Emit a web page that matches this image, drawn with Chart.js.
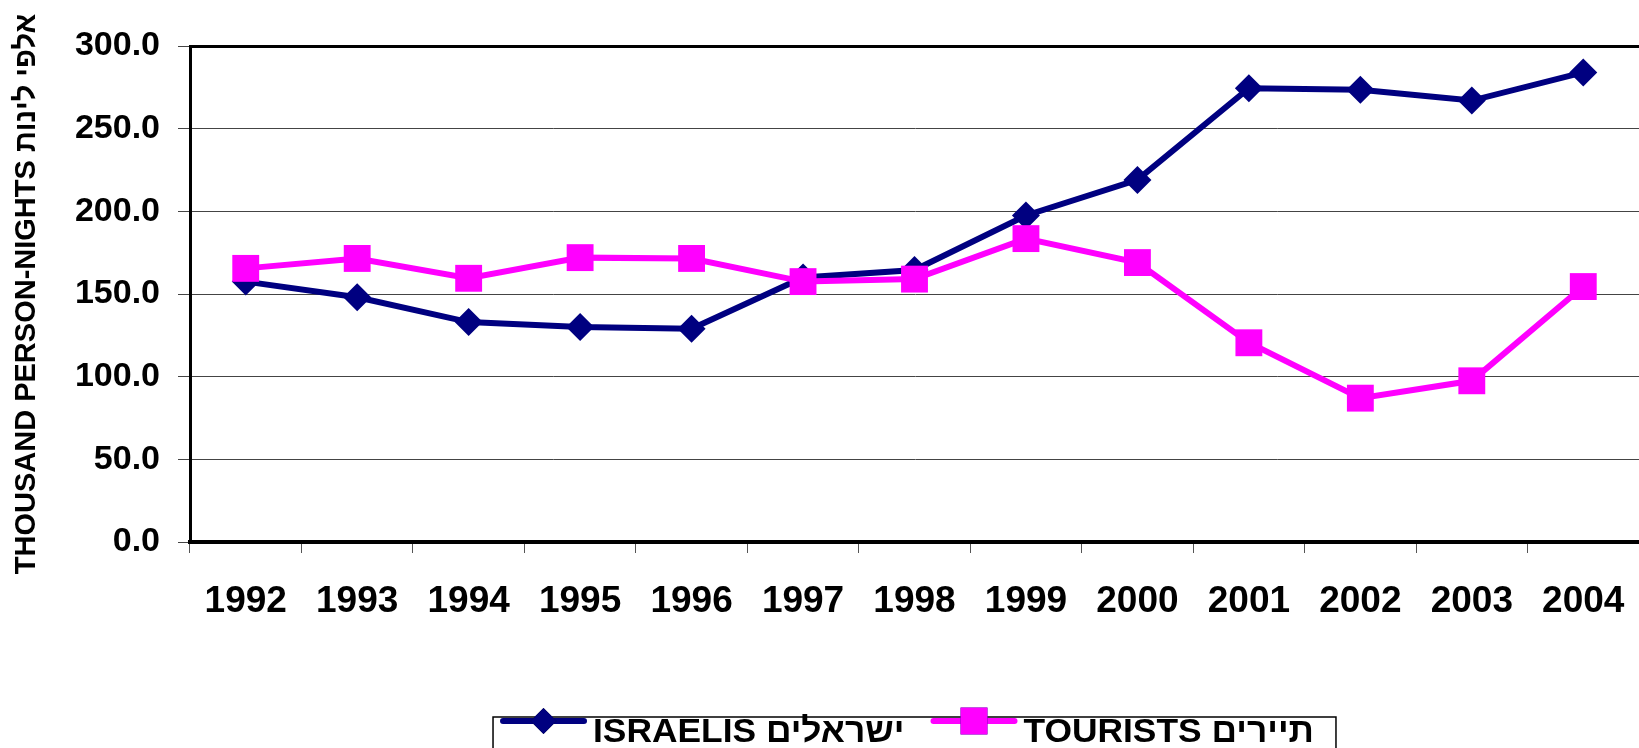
<!DOCTYPE html>
<html>
<head>
<meta charset="utf-8">
<script src="https://cdn.jsdelivr.net/npm/chart.js@4.4.0/dist/chart.umd.min.js"></script>
<style>
  html, body { margin: 0; padding: 0; background: #fff; overflow: hidden; }
  #wrap { width: 1639px; height: 748px; }
</style>
</head>
<body>
<div id="wrap"><canvas id="grafico"></canvas></div>
<script>
const anos = ["1992", "1993", "1994", "1995", "1996", "1997", "1998", "1999", "2000", "2001", "2002", "2003", "2004"];
const israelis = [157.5, 148.0, 133.0, 130.0, 129.0, 160.0, 164.5, 197.5, 219.0, 274.5, 273.5, 267.0, 284.0];
const turistas = [165.5, 171.5, 159.5, 172.0, 171.5, 157.5, 159.0, 183.5, 169.0, 120.5, 87.0, 97.5, 154.5];
const nomeIsraelis = "ISRAELIS ישראלים";
const nomeTuristas = "TOURISTS תיירים";
const tituloY = "THOUSAND PERSON-NIGHTS אלפי לינות";

const fonte = "'Liberation Sans', 'DejaVu Sans', Arial, sans-serif";

// legenda desenhada a mao (linha + marcador dentro de uma caixa)
const legendaCaixa = {
  id: "legendaCaixa",
  afterDraw(chart) {
    const ctx = chart.ctx;
    const area = chart.chartArea;
    const ds = chart.data.datasets;
    const itens = [ds[1], ds[0]]; // israelis primeiro
    ctx.save();
    ctx.font = "700 34px " + fonte;
    const escala = 1.04;
    const larguras = itens.map(d => ctx.measureText(d.label).width * escala);
    const padE = 10, linha = 81, gap = 9, entre = 29, padD = 22;
    let total = padE + padD;
    larguras.forEach((w, i) => { total += linha + gap + w + (i ? entre : 0); });
    const cx = (area.left + area.right) / 2;
    const x0 = cx - total / 2;
    const y0 = 717;
    ctx.strokeStyle = "#000";
    ctx.lineWidth = 1.5;
    ctx.strokeRect(x0, y0, total, 40);
    let x = x0 + padE;
    itens.forEach((d, i) => {
      if (i) x += entre;
      const ly = 721;
      ctx.strokeStyle = d.borderColor;
      ctx.lineWidth = 6;
      ctx.lineCap = "round";
      ctx.beginPath();
      ctx.moveTo(x, ly);
      ctx.lineTo(x + linha, ly);
      ctx.stroke();
      Chart.helpers.drawPoint(ctx, {
        pointStyle: d.pointStyle,
        radius: d.pointStyle === "rect" ? 19 : 13,
        borderWidth: 0,
        rotation: 0
      }, x + linha / 2, ly);
      ctx.fillStyle = d.backgroundColor;
      ctx.fill();
      x += linha + gap;
      ctx.save();
      ctx.translate(x, 742);
      ctx.scale(escala, 1);
      ctx.fillStyle = "#000";
      ctx.fillText(d.label, 0, 0);
      ctx.restore();
      x += larguras[i];
    });
    ctx.restore();
  }
};

const ctx = document.getElementById("grafico").getContext("2d");
new Chart(ctx, {
  type: "line",
  data: {
    labels: anos,
    datasets: [
      {
        label: nomeTuristas,
        data: turistas,
        borderColor: "#ff00ff",
        backgroundColor: "#ff00ff",
        borderWidth: 6,
        pointStyle: "rect",
        pointRadius: 19,
        pointHoverRadius: 19,
        pointBorderWidth: 0,
        tension: 0,
        order: 1
      },
      {
        label: nomeIsraelis,
        data: israelis,
        borderColor: "#000080",
        backgroundColor: "#000080",
        borderWidth: 6,
        pointStyle: "rectRot",
        pointRadius: 14,
        pointHoverRadius: 14,
        pointBorderWidth: 0,
        tension: 0,
        order: 2
      }
    ]
  },
  options: {
    responsive: true,
    maintainAspectRatio: false,
    animation: false,
    layout: { autoPadding: false, padding: { top: 46, left: 0, right: 0, bottom: 0 } },
    plugins: {
      legend: { display: false },
      tooltip: { enabled: false }
    },
    scales: {
      x: {
        offset: true,
        afterFit: s => { s.height = 206; s.paddingRight = 0; s.paddingLeft = 0; },
        border: { display: true, color: "#000", width: 4 },
        grid: {
          offset: true,
          drawOnChartArea: false,
          drawTicks: true,
          tickLength: 11,
          tickColor: "#555",
          tickWidth: 1
        },
        ticks: {
          color: "#000",
          font: { family: fonte, size: 37, weight: "bold" },
          padding: 27,
          maxRotation: 0,
          autoSkip: false
        }
      },
      y: {
        min: 0,
        max: 300,
        afterFit: s => { s.width = 190; },
        border: { display: true, color: "#000", width: 3 },
        grid: {
          color: ctx => ctx.tick && ctx.tick.value === 300 ? "#000" : "#444",
          lineWidth: ctx => ctx.tick && ctx.tick.value === 300 ? 3 : 1,
          drawTicks: true,
          tickLength: 12,
          tickColor: "#444",
          tickWidth: 1
        },
        ticks: {
          stepSize: 50,
          color: "#000",
          padding: 18,
          font: { family: fonte, size: 34, weight: "bold" },
          callback: v => v.toFixed(1)
        },
        title: {
          display: true,
          text: tituloY,
          color: "#000",
          font: { family: fonte, size: 29, weight: "bold" },
          padding: { top: 10, bottom: 0 }
        }
      }
    }
  },
  plugins: [legendaCaixa]
});
</script>
</body>
</html>
